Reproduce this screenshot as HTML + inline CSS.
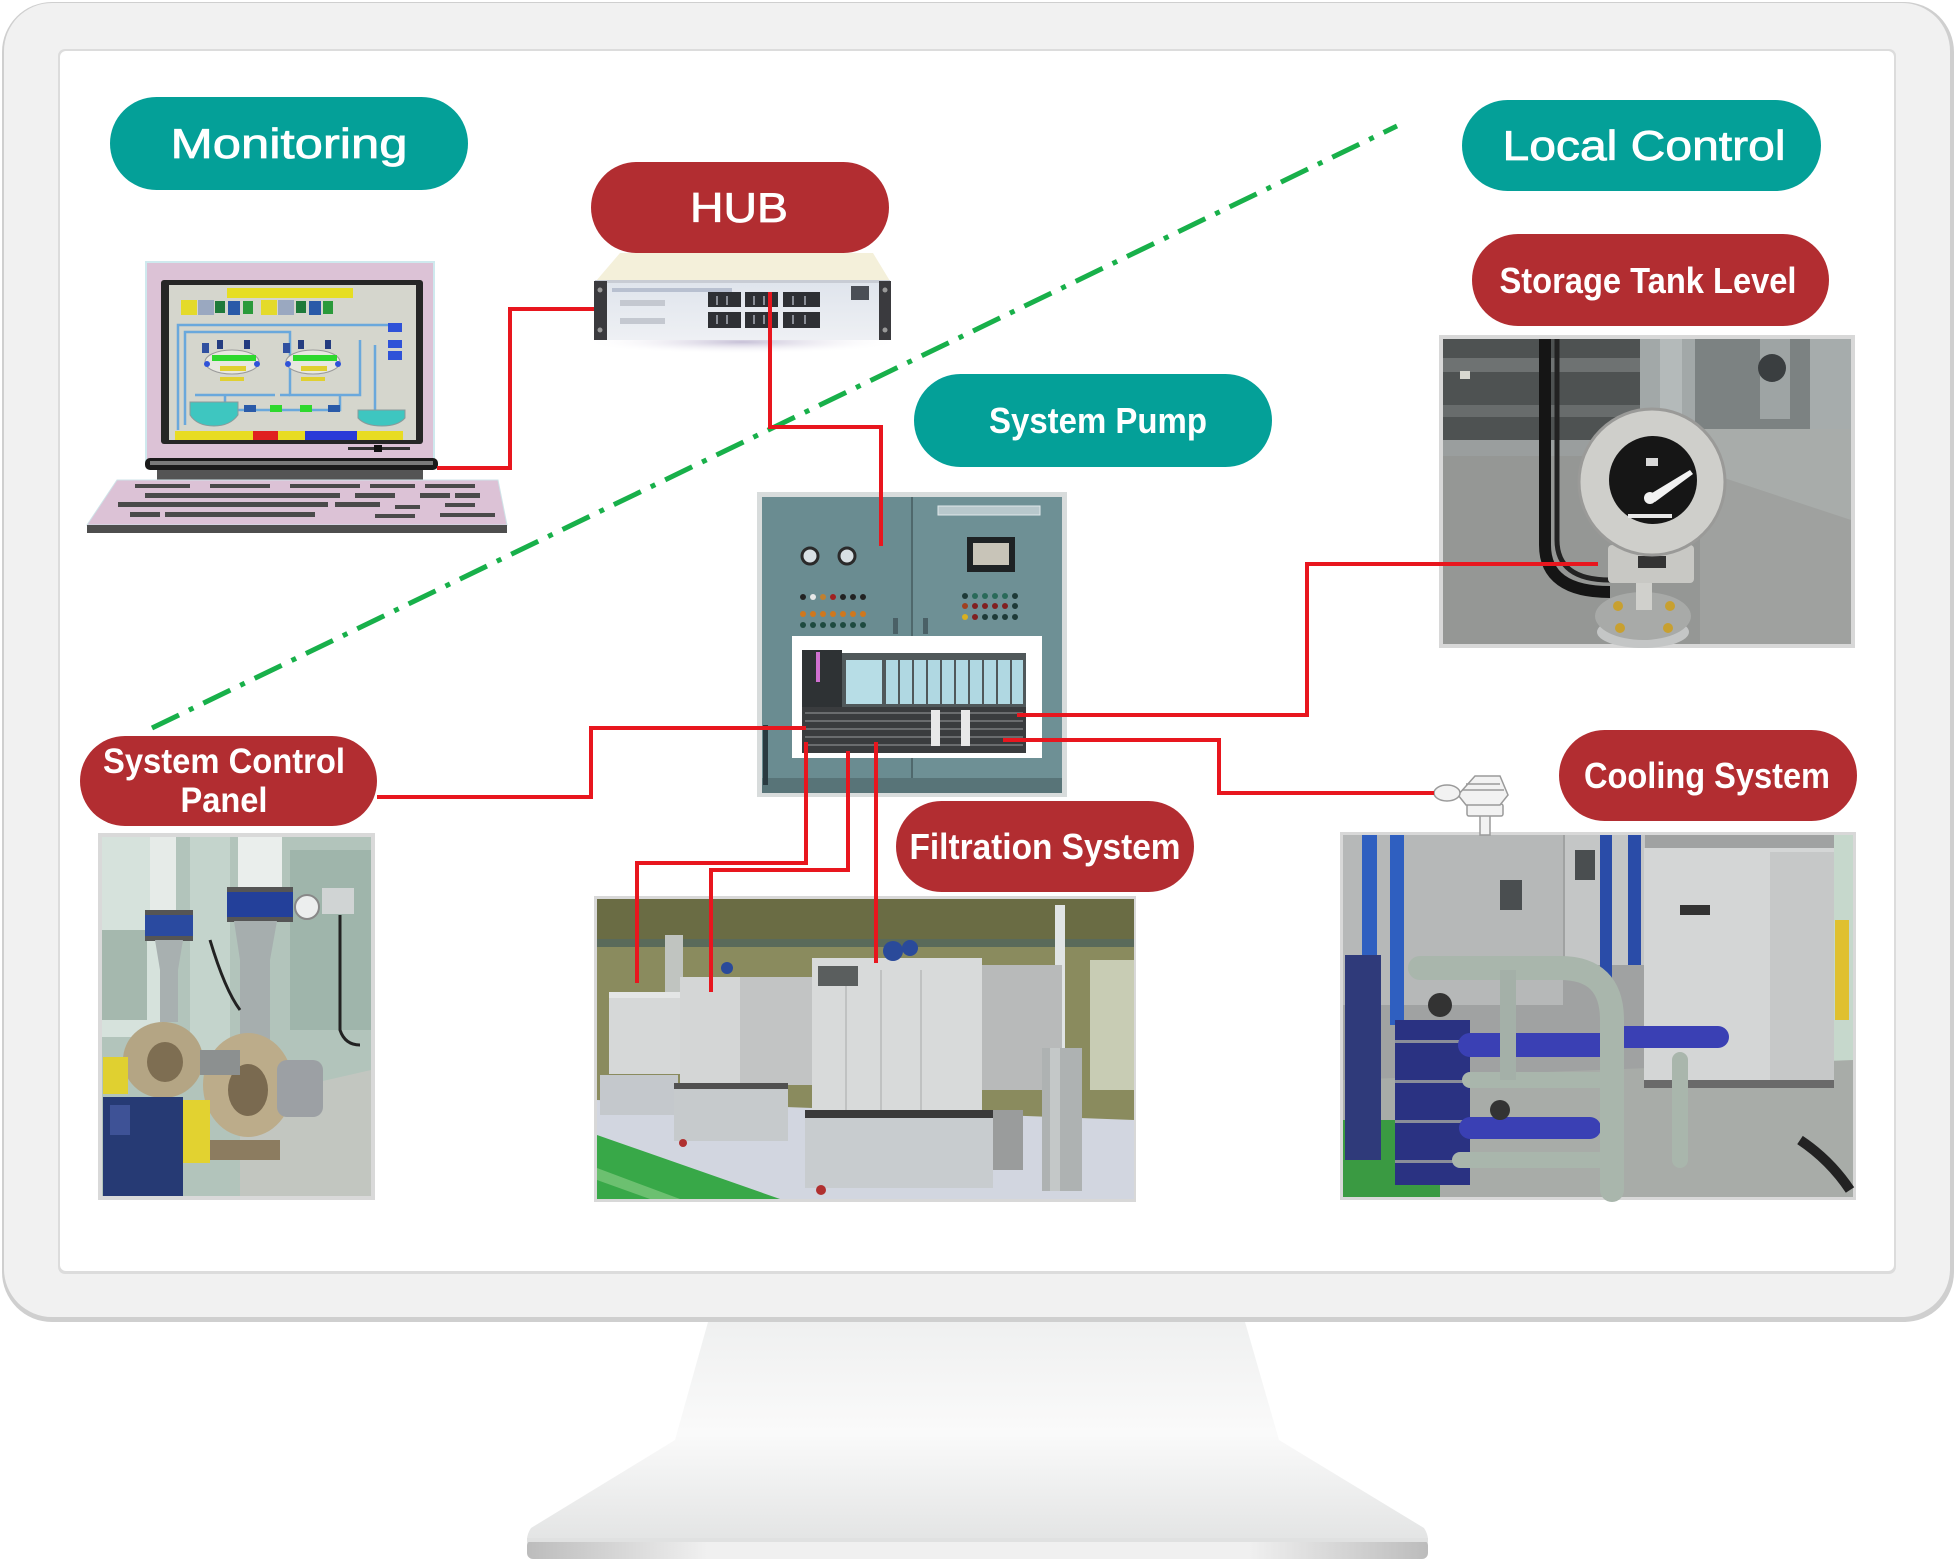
<!DOCTYPE html>
<html>
<head>
<meta charset="utf-8">
<style>
html,body{margin:0;padding:0;background:#ffffff;width:1956px;height:1559px;overflow:hidden;}
svg{display:block;}
.tm{font-family:"Liberation Sans",sans-serif;fill:#ffffff;stroke:#ffffff;stroke-width:0.8;}
.tb{font-family:"Liberation Sans",sans-serif;fill:#ffffff;font-weight:bold;}
</style>
</head>
<body>
<svg width="1956" height="1559" viewBox="0 0 1956 1559" xmlns="http://www.w3.org/2000/svg">
<defs>
  <linearGradient id="standG" x1="0" y1="0" x2="0" y2="1">
    <stop offset="0" stop-color="#eff0f0"/>
    <stop offset="0.5" stop-color="#fafafa"/>
    <stop offset="1" stop-color="#e2e3e3"/>
  </linearGradient>
  <linearGradient id="lipG" x1="0" y1="0" x2="1" y2="0">
    <stop offset="0" stop-color="#bcbcbc"/>
    <stop offset="0.2" stop-color="#f0f0f0"/>
    <stop offset="0.8" stop-color="#f0f0f0"/>
    <stop offset="1" stop-color="#bcbcbc"/>
  </linearGradient>
  <linearGradient id="hubFront" x1="0" y1="0" x2="0" y2="1">
    <stop offset="0" stop-color="#dfe4ec"/>
    <stop offset="1" stop-color="#eef0f4"/>
  </linearGradient>
  <radialGradient id="hubShadow" cx="0.5" cy="0.5" r="0.5">
    <stop offset="0" stop-color="#b8b0cc" stop-opacity="0.8"/>
    <stop offset="1" stop-color="#ffffff" stop-opacity="0"/>
  </radialGradient>
</defs>

<!-- ===== Monitor bezel ===== -->
<rect x="2" y="2" width="1952" height="1320" rx="50" fill="#cfcfcf"/>
<rect x="4" y="3" width="1946" height="1314" rx="48" fill="#f1f1f1"/>
<!-- screen -->
<rect x="58" y="49" width="1838" height="1225" rx="7" fill="#dcdcdc"/>
<rect x="60" y="51" width="1834" height="1220" rx="6" fill="#ffffff"/>

<!-- ===== Stand ===== -->
<path d="M708,1322 L1245,1322 L1279,1440 L1424,1528 Q1428,1534 1428,1540 L1428,1546 L527,1546 L527,1540 Q527,1534 531,1528 L675,1440 Z" fill="url(#standG)"/>
<rect x="527" y="1540" width="901" height="19" rx="6" fill="url(#lipG)"/>
<rect x="527" y="1538" width="901" height="4" fill="#e0e1e1"/>

<!-- ===== Green dash-dot divider ===== -->
<line x1="152" y1="728" x2="1397" y2="126" stroke="#18b04a" stroke-width="5" stroke-dasharray="30 11 5 11"/>

<!-- ===== Laptop / monitoring PC ===== -->
<g>
  <rect x="145" y="261" width="290" height="201" fill="#cfe9ee"/>
  <rect x="147" y="263" width="286" height="197" fill="#dcc2d6"/>
  <rect x="161" y="280" width="262" height="164" rx="3" fill="#262626"/>
  <rect x="169" y="285" width="247" height="155" fill="#d5d6cd"/>
  <!-- title bar -->
  <rect x="227" y="288" width="126" height="10" fill="#e6de22"/>
  <!-- icons row -->
  <rect x="181" y="300" width="16" height="15" fill="#e4da2a"/>
  <rect x="198" y="300" width="16" height="15" fill="#9aa8c0"/>
  <rect x="215" y="301" width="10" height="12" fill="#1e7a3a"/>
  <rect x="228" y="301" width="12" height="14" fill="#2a5aa8"/>
  <rect x="243" y="301" width="10" height="13" fill="#2a9a3a"/>
  <rect x="261" y="300" width="16" height="15" fill="#e4da2a"/>
  <rect x="278" y="300" width="16" height="15" fill="#9aa8c0"/>
  <rect x="296" y="301" width="10" height="12" fill="#1e7a3a"/>
  <rect x="309" y="301" width="12" height="14" fill="#2a5aa8"/>
  <rect x="323" y="301" width="10" height="13" fill="#2a9a3a"/>
  <!-- pipes -->
  <g fill="none" stroke="#6aa8dc" stroke-width="2.5">
    <path d="M178,430 V325 H380"/>
    <path d="M185,425 V332 H290 V395 H360 V340"/>
    <path d="M195,395 H275 M280,395 H290"/>
    <path d="M380,325 H395 M375,345 V420 H395"/>
    <path d="M225,395 V410 H340 V395"/>
    <path d="M205,433 H390"/>
  </g>
  <rect x="388" y="323" width="14" height="9" fill="#2f52d8"/>
  <rect x="388" y="340" width="14" height="8" fill="#2f52d8"/>
  <rect x="388" y="351" width="14" height="9" fill="#2f52d8"/>
  <!-- filter units -->
  <ellipse cx="232" cy="362" rx="27" ry="12" fill="#e8e8e0" stroke="#9a9a9a" stroke-width="1"/>
  <ellipse cx="313" cy="362" rx="27" ry="12" fill="#e8e8e0" stroke="#9a9a9a" stroke-width="1"/>
  <rect x="212" y="355" width="44" height="6" fill="#2ed82e"/>
  <rect x="293" y="355" width="44" height="6" fill="#2ed82e"/>
  <rect x="220" y="366" width="26" height="5" fill="#e0d030"/>
  <rect x="301" y="366" width="26" height="5" fill="#e0d030"/>
  <rect x="220" y="377" width="24" height="4" fill="#e0d030"/>
  <rect x="301" y="377" width="24" height="4" fill="#e0d030"/>
  <rect x="202" y="343" width="7" height="10" fill="#3050a0"/>
  <rect x="217" y="340" width="6" height="9" fill="#243c80"/>
  <rect x="244" y="340" width="6" height="9" fill="#243c80"/>
  <rect x="283" y="343" width="7" height="10" fill="#3050a0"/>
  <rect x="298" y="340" width="6" height="9" fill="#243c80"/>
  <rect x="325" y="340" width="6" height="9" fill="#243c80"/>
  <circle cx="207" cy="364" r="3" fill="#2f52d8"/>
  <circle cx="257" cy="364" r="3" fill="#2f52d8"/>
  <circle cx="288" cy="364" r="3" fill="#2f52d8"/>
  <circle cx="338" cy="364" r="3" fill="#2f52d8"/>
  <!-- tanks -->
  <path d="M190,402 H238 V415 Q230,426 214,426 Q197,426 190,415 Z" fill="#3ec6c0" stroke="#8a9a9a" stroke-width="1"/>
  <path d="M358,410 H405 V418 Q398,426 382,426 Q365,426 358,418 Z" fill="#3ec6c0" stroke="#8a9a9a" stroke-width="1"/>
  <rect x="244" y="405" width="12" height="7" fill="#2a5aa8"/>
  <rect x="270" y="405" width="12" height="7" fill="#2ed82e"/>
  <rect x="300" y="405" width="12" height="7" fill="#2ed82e"/>
  <rect x="328" y="405" width="12" height="7" fill="#2a5aa8"/>
  <!-- bottom buttons -->
  <rect x="175" y="431" width="78" height="9" fill="#e8dc22"/>
  <rect x="253" y="431" width="25" height="9" fill="#e02020"/>
  <rect x="278" y="431" width="27" height="9" fill="#e8dc22"/>
  <rect x="305" y="431" width="52" height="9" fill="#2a3ad8"/>
  <rect x="357" y="431" width="46" height="9" fill="#e8dc22"/>
  <!-- small bar -->
  <rect x="348" y="447" width="62" height="3" fill="#333"/>
  <rect x="374" y="445" width="8" height="7" fill="#111"/>
  <!-- hinge -->
  <rect x="145" y="458" width="293" height="12" rx="5" fill="#1a1a1a"/>
  <rect x="150" y="461" width="283" height="4" fill="#7a7a7a"/>
  <rect x="157" y="470" width="266" height="13" fill="#545454"/>
  <!-- keyboard -->
  <path d="M117,480 L498,480 L507,525 L87,525 Z" fill="#dcc2d6" stroke="#cfe3e8" stroke-width="1"/>
  <rect x="87" y="525" width="420" height="8" fill="#4e4e4e"/>
  <g fill="#4a4a4a">
    <rect x="135" y="484" width="55" height="4"/>
    <rect x="210" y="484" width="60" height="4"/>
    <rect x="290" y="484" width="70" height="4"/>
    <rect x="370" y="484" width="45" height="4"/>
    <rect x="425" y="484" width="50" height="4"/>
    <rect x="145" y="493" width="195" height="5"/>
    <rect x="355" y="493" width="40" height="5"/>
    <rect x="420" y="493" width="30" height="5"/>
    <rect x="455" y="493" width="25" height="5"/>
    <rect x="118" y="502" width="210" height="5"/>
    <rect x="335" y="502" width="45" height="5"/>
    <rect x="395" y="505" width="25" height="4"/>
    <rect x="445" y="503" width="30" height="4"/>
    <rect x="130" y="512" width="30" height="5"/>
    <rect x="165" y="512" width="150" height="5"/>
    <rect x="375" y="514" width="40" height="4"/>
    <rect x="440" y="513" width="55" height="4"/>
  </g>
</g>

<!-- ===== HUB device ===== -->
<g>
  <ellipse cx="742" cy="342" rx="160" ry="12" fill="url(#hubShadow)"/>
  <path d="M620,253 L873,253 L890,281 L596,281 Z" fill="#f4f0da"/>
  <rect x="595" y="280" width="295" height="60" fill="url(#hubFront)"/>
  <rect x="595" y="280" width="295" height="3" fill="#c8ccd4"/>
  <rect x="594" y="281" width="13" height="59" fill="#3a3a3e"/>
  <rect x="879" y="281" width="12" height="59" fill="#3a3a3e"/>
  <circle cx="600" cy="290" r="2.5" fill="#999"/>
  <circle cx="600" cy="330" r="2.5" fill="#999"/>
  <circle cx="885" cy="290" r="2.5" fill="#999"/>
  <circle cx="885" cy="330" r="2.5" fill="#999"/>
  <rect x="612" y="288" width="120" height="4" fill="#b8c0d0"/>
  <rect x="620" y="300" width="45" height="6" fill="#c4c8d0"/>
  <rect x="620" y="318" width="45" height="6" fill="#c4c8d0"/>
  <g fill="#2e3034">
    <rect x="708" y="292" width="33" height="15"/>
    <rect x="745" y="292" width="33" height="15"/>
    <rect x="783" y="292" width="37" height="15"/>
    <rect x="708" y="312" width="33" height="16"/>
    <rect x="745" y="312" width="33" height="16"/>
    <rect x="783" y="312" width="37" height="16"/>
  </g>
  <g fill="#8a8e96">
    <rect x="716" y="296" width="2" height="9"/><rect x="726" y="296" width="2" height="9"/>
    <rect x="753" y="296" width="2" height="9"/><rect x="763" y="296" width="2" height="9"/>
    <rect x="792" y="296" width="2" height="9"/><rect x="804" y="296" width="2" height="9"/>
    <rect x="716" y="315" width="2" height="9"/><rect x="726" y="315" width="2" height="9"/>
    <rect x="753" y="315" width="2" height="9"/><rect x="763" y="315" width="2" height="9"/>
    <rect x="792" y="315" width="2" height="9"/><rect x="804" y="315" width="2" height="9"/>
  </g>
  <rect x="851" y="286" width="18" height="14" fill="#4a4e56"/>
</g>

<!-- ===== Control panel photo ===== -->
<g>
  <rect x="757" y="492" width="310" height="305" fill="#d8dcdc"/>
  <rect x="762" y="497" width="300" height="296" fill="#6e9095"/>
  <rect x="762" y="497" width="150" height="296" fill="#6a8c91"/>
  <rect x="911" y="497" width="2" height="296" fill="#4f686c"/>
  <rect x="762" y="778" width="300" height="15" fill="#587478"/>
  <rect x="763" y="725" width="5" height="60" fill="#2a3a40"/>
  <rect x="938" y="506" width="102" height="9" fill="#b8c8cc" stroke="#e0e8ea" stroke-width="1"/>
  <rect x="967" y="537" width="48" height="35" fill="#1e2224"/>
  <rect x="973" y="543" width="36" height="22" fill="#c8c4b8"/>
  <circle cx="810" cy="556" r="8" fill="#d8e0e4" stroke="#2a2a2a" stroke-width="3"/>
  <circle cx="847" cy="556" r="8" fill="#d8e0e4" stroke="#2a2a2a" stroke-width="3"/>
  <g fill="#222">
    <circle cx="803" cy="597" r="3"/><circle cx="813" cy="597" r="3" fill="#e8e8e8"/><circle cx="823" cy="597" r="3" fill="#c08030"/>
    <circle cx="833" cy="597" r="3" fill="#a02020"/><circle cx="843" cy="597" r="3"/><circle cx="853" cy="597" r="3"/><circle cx="863" cy="597" r="3"/>
  </g>
  <g fill="#d0781e">
    <circle cx="803" cy="614" r="3"/><circle cx="813" cy="614" r="3"/><circle cx="823" cy="614" r="3"/><circle cx="833" cy="614" r="3"/>
    <circle cx="843" cy="614" r="3"/><circle cx="853" cy="614" r="3"/><circle cx="863" cy="614" r="3"/>
  </g>
  <g fill="#1e4a40">
    <circle cx="803" cy="625" r="3"/><circle cx="813" cy="625" r="3"/><circle cx="823" cy="625" r="3"/><circle cx="833" cy="625" r="3"/>
    <circle cx="843" cy="625" r="3"/><circle cx="853" cy="625" r="3"/><circle cx="863" cy="625" r="3"/>
  </g>
  <g fill="#1e3a38">
    <circle cx="965" cy="596" r="3"/><circle cx="975" cy="596" r="3" fill="#2a6a5a"/><circle cx="985" cy="596" r="3" fill="#2a6a5a"/><circle cx="995" cy="596" r="3" fill="#2a6a5a"/><circle cx="1005" cy="596" r="3" fill="#2a6a5a"/><circle cx="1015" cy="596" r="3"/>
    <circle cx="965" cy="606" r="3" fill="#a04020"/><circle cx="975" cy="606" r="3" fill="#802020"/><circle cx="985" cy="606" r="3" fill="#802020"/><circle cx="995" cy="606" r="3" fill="#802020"/><circle cx="1005" cy="606" r="3" fill="#802020"/><circle cx="1015" cy="606" r="3"/>
    <circle cx="965" cy="617" r="3" fill="#d8b020"/><circle cx="975" cy="617" r="3" fill="#802020"/><circle cx="985" cy="617" r="3"/><circle cx="995" cy="617" r="3"/><circle cx="1005" cy="617" r="3"/><circle cx="1015" cy="617" r="3"/>
  </g>
  <rect x="893" y="618" width="5" height="16" fill="#4a6066"/>
  <rect x="923" y="618" width="5" height="16" fill="#4a6066"/>
  <!-- white insert -->
  <rect x="792" y="636" width="250" height="122" fill="#ffffff"/>
  <!-- PLC -->
  <rect x="802" y="650" width="40" height="103" fill="#2e3234"/>
  <rect x="816" y="652" width="4" height="30" fill="#d070d0"/>
  <rect x="842" y="653" width="184" height="55" fill="#50585a"/>
  <rect x="846" y="660" width="36" height="44" fill="#b7dde6"/>
  <g fill="#b0d8e2">
    <rect x="886" y="660" width="12" height="44"/><rect x="900" y="660" width="12" height="44"/>
    <rect x="914" y="660" width="12" height="44"/><rect x="928" y="660" width="12" height="44"/>
    <rect x="942" y="660" width="12" height="44"/><rect x="956" y="660" width="12" height="44"/>
    <rect x="970" y="660" width="12" height="44"/><rect x="984" y="660" width="12" height="44"/>
    <rect x="998" y="660" width="12" height="44"/><rect x="1012" y="660" width="11" height="44"/>
  </g>
  <rect x="802" y="707" width="224" height="46" fill="#3a3c3e"/>
  <g fill="#6a6c6e">
    <rect x="805" y="712" width="218" height="2"/><rect x="805" y="720" width="218" height="2"/>
    <rect x="805" y="728" width="218" height="2"/><rect x="805" y="736" width="218" height="2"/>
    <rect x="805" y="744" width="218" height="2"/>
  </g>
  <rect x="931" y="710" width="9" height="36" fill="#e8e8e8"/>
  <rect x="961" y="710" width="9" height="36" fill="#e8e8e8"/>
</g>

<!-- ===== Storage tank level photo ===== -->
<g>
  <rect x="1439" y="335" width="416" height="313" fill="#d8d8d8"/>
  <rect x="1443" y="339" width="408" height="305" fill="#8c8e8c"/>
  <rect x="1443" y="339" width="200" height="117" fill="#4e5252"/>
  <rect x="1443" y="358" width="200" height="14" fill="#6e7272"/>
  <rect x="1443" y="405" width="200" height="12" fill="#686c6c"/>
  <rect x="1443" y="440" width="200" height="16" fill="#9a9e9e"/>
  <rect x="1460" y="371" width="10" height="8" fill="#d8d8d0"/>
  <rect x="1640" y="339" width="55" height="125" fill="#a2a8a8"/>
  <rect x="1660" y="339" width="22" height="125" fill="#b4baba"/>
  <rect x="1695" y="339" width="156" height="90" fill="#7c8282"/>
  <rect x="1760" y="339" width="30" height="80" fill="#9ea4a4"/>
  <rect x="1810" y="339" width="41" height="120" fill="#a6acac"/>
  <circle cx="1772" cy="368" r="14" fill="#3a3e40"/>
  <path d="M1700,429 L1851,429 L1851,520 L1700,500 Z" fill="#a8acaa"/>
  <path d="M1443,456 L1700,456 L1700,644 L1443,644 Z" fill="#959795"/>
  <path d="M1700,470 L1851,520 L1851,644 L1700,644 Z" fill="#9fa19f"/>
  <!-- cables -->
  <path d="M1545,339 V545 Q1545,592 1610,592" fill="none" stroke="#151515" stroke-width="12"/>
  <path d="M1557,339 V540 Q1557,580 1610,580" fill="none" stroke="#222" stroke-width="5"/>
  <!-- flange -->
  <ellipse cx="1643" cy="632" rx="46" ry="16" fill="#c4c6c6"/>
  <ellipse cx="1643" cy="616" rx="48" ry="24" fill="#a8aaa8"/>
  <circle cx="1618" cy="606" r="5" fill="#c8a030"/>
  <circle cx="1670" cy="606" r="5" fill="#c8a030"/>
  <circle cx="1620" cy="628" r="5" fill="#c8a030"/>
  <circle cx="1668" cy="628" r="5" fill="#c8a030"/>
  <rect x="1636" y="580" width="16" height="30" fill="#d0d0cc"/>
  <!-- housing -->
  <rect x="1608" y="545" width="86" height="38" rx="4" fill="#c8c8c4"/>
  <rect x="1638" y="556" width="28" height="12" fill="#333"/>
  <circle cx="1652" cy="482" r="73" fill="#cfcfcb" stroke="#9a9a98" stroke-width="3"/>
  <circle cx="1653" cy="480" r="44" fill="#161616"/>
  <path d="M1647,496 L1690,470 L1693,474 L1655,502 Z" fill="#f2f2f2"/>
  <circle cx="1650" cy="498" r="6" fill="#f2f2f2"/>
  <rect x="1628" y="514" width="44" height="4" fill="#e8e8e8"/>
  <rect x="1646" y="458" width="12" height="8" fill="#d8d8d8"/>
</g>

<!-- ===== Pump photo (left bottom) ===== -->
<g>
  <rect x="98" y="833" width="277" height="367" fill="#d9d9d9"/>
  <rect x="102" y="837" width="269" height="359" fill="#b2c4bb"/>
  <rect x="102" y="837" width="60" height="200" fill="#d6e2dc"/>
  <rect x="290" y="850" width="81" height="180" fill="#9fb5ab"/>
  <rect x="190" y="837" width="40" height="220" fill="#c4d4cc"/>
  <rect x="102" y="930" width="45" height="90" fill="#a5b8ae"/>
  <!-- pipes -->
  <rect x="150" y="837" width="26" height="80" fill="#e6ebe8"/>
  <rect x="238" y="837" width="44" height="55" fill="#eaeeec"/>
  <rect x="145" y="910" width="48" height="30" fill="#2a4aa0"/>
  <rect x="145" y="910" width="48" height="5" fill="#555"/>
  <rect x="145" y="936" width="48" height="5" fill="#555"/>
  <rect x="227" y="887" width="66" height="34" fill="#23409a"/>
  <rect x="227" y="887" width="66" height="5" fill="#555"/>
  <rect x="227" y="917" width="66" height="5" fill="#555"/>
  <path d="M155,940 H183 L178,970 V1022 H160 V970 Z" fill="#a8b0b0"/>
  <path d="M234,921 H277 L270,960 V1040 H240 V960 Z" fill="#a6aeae"/>
  <circle cx="307" cy="907" r="12" fill="#eceeee" stroke="#888" stroke-width="2"/>
  <rect x="322" y="888" width="32" height="26" fill="#d0d4d4"/>
  <path d="M340,915 V1030 Q345,1045 360,1045" fill="none" stroke="#222" stroke-width="3"/>
  <path d="M210,940 Q225,990 240,1010" fill="none" stroke="#222" stroke-width="3"/>
  <!-- floor -->
  <path d="M240,1100 L371,1070 L371,1196 L240,1196 Z" fill="#c2c6c0"/>
  <!-- pumps -->
  <ellipse cx="163" cy="1060" rx="40" ry="38" fill="#b4a584"/>
  <ellipse cx="165" cy="1062" rx="18" ry="20" fill="#7e6e52"/>
  <ellipse cx="248" cy="1085" rx="45" ry="52" fill="#bcac8a"/>
  <ellipse cx="248" cy="1090" rx="20" ry="26" fill="#7a6a50"/>
  <rect x="277" y="1060" width="46" height="57" rx="10" fill="#9ca0a4"/>
  <rect x="200" y="1050" width="40" height="25" fill="#8c9090"/>
  <rect x="103" y="1057" width="25" height="37" fill="#e0d030"/>
  <rect x="173" y="1100" width="37" height="63" fill="#e2d230"/>
  <rect x="103" y="1097" width="80" height="99" fill="#263a74"/>
  <rect x="110" y="1105" width="20" height="30" fill="#3e5296"/>
  <rect x="210" y="1140" width="70" height="20" fill="#8c7c60"/>
</g>

<!-- ===== Filtration system photo ===== -->
<g>
  <rect x="594" y="896" width="542" height="306" fill="#d8d8d8"/>
  <rect x="597" y="899" width="537" height="300" fill="#8a8b5e"/>
  <rect x="597" y="899" width="537" height="40" fill="#6a6c44"/>
  <rect x="597" y="939" width="537" height="8" fill="#5a6a5a"/>
  <rect x="1090" y="960" width="44" height="130" fill="#c8ccb4"/>
  <!-- floor -->
  <path d="M597,1100 L1134,1120 L1134,1199 L597,1199 Z" fill="#d2d6e0"/>
  <path d="M597,1135 L780,1199 L597,1199 Z" fill="#38a848"/>
  <path d="M597,1168 L680,1199 L650,1199 L597,1180 Z" fill="#6cc070"/>
  <!-- ducts -->
  <rect x="665" y="935" width="18" height="60" fill="#c0c4c0"/>
  <rect x="1055" y="905" width="10" height="145" fill="#e0e4e4"/>
  <!-- unit 1 -->
  <rect x="609" y="992" width="72" height="82" fill="#d6d8d8"/>
  <rect x="609" y="992" width="72" height="6" fill="#e4e6e6"/>
  <rect x="600" y="1075" width="78" height="40" fill="#c4c8cc"/>
  <!-- unit 2 -->
  <rect x="680" y="977" width="132" height="108" fill="#d4d6d6"/>
  <rect x="740" y="977" width="72" height="108" fill="#c2c4c4"/>
  <rect x="674" y="1083" width="114" height="58" fill="#c6cacc"/>
  <rect x="674" y="1083" width="114" height="6" fill="#505050"/>
  <!-- unit 3 -->
  <rect x="812" y="958" width="170" height="155" fill="#d8dada"/>
  <rect x="982" y="965" width="80" height="125" fill="#b8baba"/>
  <rect x="845" y="970" width="2" height="140" fill="#c0c2c2"/>
  <rect x="880" y="970" width="2" height="140" fill="#c0c2c2"/>
  <rect x="920" y="970" width="2" height="140" fill="#c0c2c2"/>
  <rect x="805" y="1110" width="188" height="78" fill="#c8cccf"/>
  <rect x="805" y="1110" width="188" height="8" fill="#3a3a3a"/>
  <rect x="993" y="1110" width="30" height="60" fill="#9a9c9c"/>
  <circle cx="821" cy="1190" r="5" fill="#b03030"/>
  <circle cx="683" cy="1143" r="4" fill="#b03030"/>
  <!-- motors -->
  <circle cx="893" cy="951" r="10" fill="#2a4a9a"/>
  <circle cx="910" cy="948" r="8" fill="#2a4a9a"/>
  <circle cx="727" cy="968" r="6" fill="#2a4a9a"/>
  <rect x="818" y="966" width="40" height="20" fill="#5a5e5e"/>
  <!-- pipe right -->
  <rect x="1042" y="1048" width="40" height="143" fill="#aeb2b2"/>
  <rect x="1050" y="1048" width="10" height="143" fill="#c4c8c8"/>
</g>

<!-- ===== Cooling system photo ===== -->
<g>
  <rect x="1340" y="832" width="516" height="368" fill="#d8d8d8"/>
  <rect x="1343" y="835" width="510" height="362" fill="#a0a2a2"/>
  <rect x="1343" y="835" width="220" height="170" fill="#b6b8b8"/>
  <rect x="1565" y="835" width="80" height="130" fill="#c4c6c6"/>
  <rect x="1575" y="850" width="20" height="30" fill="#4a4e50"/>
  <rect x="1500" y="880" width="22" height="30" fill="#4a4e50"/>
  <rect x="1834" y="835" width="19" height="250" fill="#c6d8cc"/>
  <rect x="1835" y="920" width="14" height="100" fill="#e0c030"/>
  <!-- floor -->
  <path d="M1343,1080 L1853,1060 L1853,1197 L1343,1197 Z" fill="#a8aca8"/>
  <path d="M1343,1120 L1440,1120 L1440,1197 L1343,1197 Z" fill="#3a9a42"/>
  <!-- chiller -->
  <rect x="1644" y="848" width="190" height="237" fill="#d4d6d6"/>
  <rect x="1770" y="852" width="64" height="230" fill="#c6c8c8"/>
  <rect x="1680" y="905" width="30" height="10" fill="#333"/>
  <rect x="1644" y="1080" width="190" height="8" fill="#6a6a6a"/>
  <!-- blue vertical pipes -->
  <rect x="1362" y="835" width="15" height="170" fill="#2f5fc0"/>
  <rect x="1390" y="835" width="14" height="190" fill="#2f5fc0"/>
  <rect x="1600" y="835" width="12" height="150" fill="#2a4ca8"/>
  <rect x="1628" y="835" width="13" height="130" fill="#2a4ca8"/>
  <!-- heat exchangers -->
  <rect x="1345" y="955" width="36" height="205" fill="#2f3a7a"/>
  <rect x="1395" y="1020" width="75" height="165" fill="#2a3282"/>
  <g fill="#8a8e9a">
    <rect x="1395" y="1040" width="75" height="3"/><rect x="1395" y="1080" width="75" height="3"/>
    <rect x="1395" y="1120" width="75" height="3"/><rect x="1395" y="1160" width="75" height="3"/>
  </g>
  <!-- blue insulated pipes -->
  <g fill="none" stroke="#3a40b4" stroke-linecap="round">
    <path d="M1470,1045 H1600" stroke-width="24"/>
    <path d="M1625,1037 H1718" stroke-width="22"/>
    <path d="M1470,1128 H1590" stroke-width="22"/>
  </g>
  <!-- gray pipes -->
  <g fill="none" stroke="#a9b6ac" stroke-linecap="round">
    <path d="M1420,968 H1560 Q1612,968 1612,1020 V1190" stroke-width="24"/>
    <path d="M1470,1080 H1600" stroke-width="16"/>
    <path d="M1460,1160 H1610" stroke-width="16"/>
    <path d="M1680,1060 V1160" stroke-width="16"/>
  </g>
  <rect x="1500" y="970" width="16" height="110" fill="#a4b0a8"/>
  <circle cx="1440" cy="1005" r="12" fill="#333"/>
  <circle cx="1500" cy="1110" r="10" fill="#333"/>
  <path d="M1800,1140 Q1830,1160 1850,1190" fill="none" stroke="#222" stroke-width="10"/>
</g>

<!-- sensor icon near cooling -->
<g fill="#f2f2f2" stroke="#9a9a9a" stroke-width="1.5">
  <rect x="1480" y="815" width="10" height="20"/>
  <rect x="1467" y="804" width="36" height="12" rx="2"/>
  <path d="M1458,795 L1475,776 L1500,776 L1508,795 L1500,805 L1466,805 Z"/>
  <path d="M1462,790 H1504 M1466,784 H1500" fill="none"/>
  <ellipse cx="1447" cy="793" rx="13" ry="8"/>
</g>

<!-- ===== Red connectors ===== -->
<g fill="none" stroke="#e8161e" stroke-width="4" stroke-linejoin="miter">
  <path d="M437,468 H510 V309 H594"/>
  <path d="M770,292 V427 H881 V546"/>
  <path d="M377,797 H591 V728 H806"/>
  <path d="M1017,715 H1307 V564 H1598"/>
  <path d="M1003,740 H1219 V793 H1434"/>
  <path d="M806,742 V863 H637 V983"/>
  <path d="M848,751 V870 H711 V992"/>
  <path d="M876,742 V963"/>
</g>

<!-- ===== Labels ===== -->
<g>
  <rect x="110" y="97" width="358" height="93" rx="46.5" fill="#04a098"/>
  <text class="tm" x="289" y="158" font-size="42" text-anchor="middle" textLength="237" lengthAdjust="spacingAndGlyphs">Monitoring</text>

  <rect x="591" y="162" width="298" height="91" rx="45.5" fill="#b22d31"/>
  <text class="tm" x="739" y="222" font-size="42" text-anchor="middle" textLength="98" lengthAdjust="spacingAndGlyphs">HUB</text>

  <rect x="1462" y="100" width="359" height="91" rx="45.5" fill="#04a098"/>
  <text class="tm" x="1644" y="160" font-size="42" text-anchor="middle" textLength="283" lengthAdjust="spacingAndGlyphs">Local Control</text>

  <rect x="1472" y="234" width="357" height="92" rx="46" fill="#b22d31"/>
  <text class="tb" x="1648" y="293" font-size="36" text-anchor="middle" textLength="297" lengthAdjust="spacingAndGlyphs">Storage Tank Level</text>

  <rect x="914" y="374" width="358" height="93" rx="46.5" fill="#04a098"/>
  <text class="tb" x="1098" y="433" font-size="36" text-anchor="middle" textLength="218" lengthAdjust="spacingAndGlyphs">System Pump</text>

  <rect x="80" y="736" width="297" height="90" rx="45" fill="#b22d31"/>
  <text class="tb" x="224" y="773" font-size="35" text-anchor="middle" textLength="242" lengthAdjust="spacingAndGlyphs">System Control</text>
  <text class="tb" x="224" y="812" font-size="35" text-anchor="middle" textLength="87" lengthAdjust="spacingAndGlyphs">Panel</text>

  <rect x="896" y="801" width="298" height="91" rx="45.5" fill="#b22d31"/>
  <text class="tb" x="1045" y="859" font-size="36" text-anchor="middle" textLength="271" lengthAdjust="spacingAndGlyphs">Filtration System</text>

  <rect x="1559" y="730" width="298" height="91" rx="45.5" fill="#b22d31"/>
  <text class="tb" x="1707" y="788" font-size="36" text-anchor="middle" textLength="246" lengthAdjust="spacingAndGlyphs">Cooling System</text>
</g>
</svg>
</body>
</html>
